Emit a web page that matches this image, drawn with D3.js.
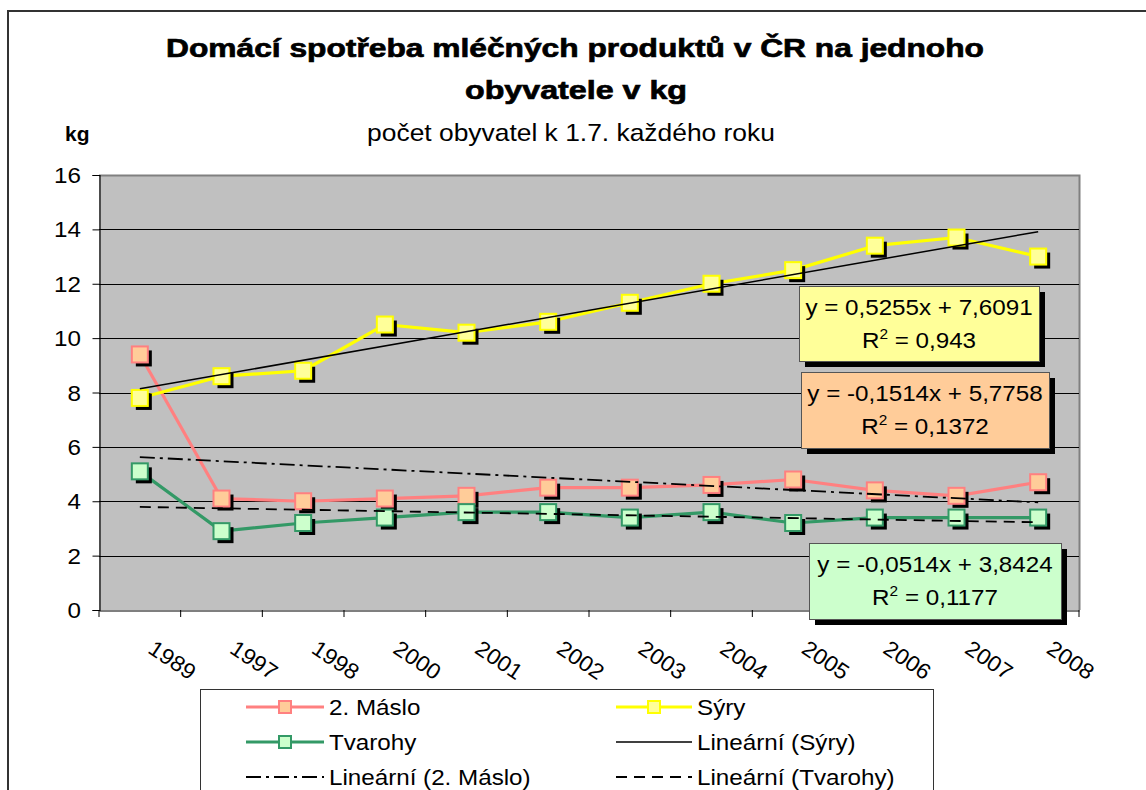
<!DOCTYPE html>
<html>
<head>
<meta charset="utf-8">
<script src="https://cdn.jsdelivr.net/npm/d3@7"></script>
<style>
  html, body { margin: 0; padding: 0; background: #fff; }
  svg { display: block; font-family: "Liberation Sans", Arial, sans-serif; }
</style>
</head>
<body>
<div id="chart"></div>
<script>
// hodnoty (kg na obyvatele)
const years = ['1989', '1997', '1998', '2000', '2001', '2002', '2003', '2004', '2005', '2006', '2007', '2008'];
const maslo = [9.4, 4.1, 4.0, 4.1, 4.2, 4.5, 4.5, 4.6, 4.8, 4.4, 4.2, 4.7];
const syry = [7.8, 8.6, 8.8, 10.5, 10.2, 10.6, 11.3, 12.0, 12.5, 13.4, 13.7, 13.0];
const tvarohy = [5.1, 2.9, 3.2, 3.4, 3.6, 3.6, 3.4, 3.6, 3.2, 3.4, 3.4, 3.4];
const yTicks = [0, 2, 4, 6, 8, 10, 12, 14, 16];

// spojnice trendu (lineární): y = a*x + b
const trendNames = ['Sýry', '2. Máslo', 'Tvarohy'];
const trendSlope = [0.5255, -0.1514, -0.0514];
const trendIntercept = [7.6091, 5.7758, 3.8424];
const trendR2 = ['0,943', '0,1372', '0,1177'];

const W = 1146, H = 790;
const SX = 1.1; // text is a bit wider than Arial in the picture

const svg = d3.select('#chart').append('svg').attr('width', W).attr('height', H);

function txt(parent, x, y, s, o) {
  o = o || {};
  const t = parent.append('text')
    .attr('transform', `translate(${x},${y}) rotate(${o.rot || 0}) scale(${o.sx || SX},1)`)
    .attr('font-size', (o.size || 22) + 'px')
    .attr('font-weight', o.bold ? 'bold' : 'normal')
    .attr('text-anchor', o.anchor || 'start')
    .attr('fill', '#000');
  if (s !== null) t.text(s);
  return t;
}

// rámeček grafu
svg.append('path').attr('d', `M8,${H} V11 H${W}`).attr('fill', 'none').attr('stroke', '#333').attr('stroke-width', 2);

// nadpisy
txt(svg, 575, 57, 'Domácí spotřeba mléčných produktů v ČR na jednoho', { size: 26, bold: true, anchor: 'middle', sx: 1 })
  .attr('textLength', 818).attr('lengthAdjust', 'spacingAndGlyphs').attr('stroke', '#000').attr('stroke-width', 0.7);
txt(svg, 576, 99, 'obyvatele v kg', { size: 26, bold: true, anchor: 'middle', sx: 1 })
  .attr('textLength', 222).attr('lengthAdjust', 'spacingAndGlyphs').attr('stroke', '#000').attr('stroke-width', 0.7);
txt(svg, 571, 141, 'počet obyvatel k 1.7. každého roku', { size: 24, anchor: 'middle' });
txt(svg, 65, 141, 'kg', { size: 21, bold: true, sx: 1 });

const x = d3.scaleBand().domain(years).range([99, 1079]).padding(0);
const y = d3.scaleLinear().domain([0, 16]).range([610, 175]);
const cx = d => x(d) + x.bandwidth() / 2;

// plocha grafu
svg.append('rect').attr('x', 99).attr('y', 175).attr('width', 980).attr('height', 435)
  .attr('fill', '#c0c0c0');
svg.append('path').attr('d', 'M99,175.5 H1079.5 V610').attr('fill', 'none').attr('stroke', '#808080').attr('stroke-width', 2);

svg.append('g').selectAll('line').data(yTicks.filter(v => v > 0 && v < 16)).join('line')
  .attr('x1', 99).attr('x2', 1079)
  .attr('y1', d => Math.round(y(d)) + 0.5).attr('y2', d => Math.round(y(d)) + 0.5)
  .attr('stroke', '#000').attr('stroke-width', 1);

// osa y
const yAxis = svg.append('g').attr('transform', 'translate(99.5,0)')
  .call(d3.axisLeft(y).tickValues(yTicks).tickSize(7).tickFormat(''));
yAxis.select('.domain').attr('stroke', '#000').attr('stroke-width', 1.2);
yAxis.selectAll('.tick line').attr('stroke', '#000');
yTicks.forEach(v => txt(svg, 81, y(v) + 8, String(v), { size: 22, anchor: 'end' }));

// osa x
const xAxis = svg.append('g').attr('transform', 'translate(0,610.5)')
  .call(d3.axisBottom(x).tickSize(0).tickFormat(''));
xAxis.select('.domain').attr('stroke', '#000').attr('stroke-width', 1.2);
svg.append('g').selectAll('line').data(years.concat(['end'])).join('line')
  .attr('x1', d => d === 'end' ? 1079 : x(d)).attr('x2', d => d === 'end' ? 1079 : x(d))
  .attr('y1', 610).attr('y2', 617).attr('stroke', '#000');
years.forEach(d => txt(svg, cx(d) + 7, 652, d, { size: 22, rot: 34, sx: 1.05 }));

// řady
const series = [
  { name: '2. Máslo', values: maslo, line: '#ff8080', fill: '#ffcc99' },
  { name: 'Sýry', values: syry, line: '#ffff00', fill: '#ffff99' },
  { name: 'Tvarohy', values: tvarohy, line: '#339966', fill: '#ccffcc' }
];
const line = d3.line().x((v, i) => cx(years[i])).y(v => y(v));
const M = 16;

series.forEach(s => {
  svg.append('path').attr('d', line(s.values)).attr('fill', 'none')
    .attr('stroke', s.line).attr('stroke-width', 3.2).attr('stroke-linejoin', 'round');
  const g = svg.append('g');
  s.values.forEach((v, i) => {
    const px = cx(years[i]), py = y(v);
    g.append('rect').attr('x', px - M / 2 + 4).attr('y', py - M / 2 + 4).attr('width', M).attr('height', M).attr('fill', '#000');
    g.append('rect').attr('x', px - M / 2).attr('y', py - M / 2).attr('width', M).attr('height', M)
      .attr('fill', s.fill).attr('stroke', s.line).attr('stroke-width', 2);
  });
});

// trendy
const trendStyle = [
  { dash: null, width: 1.5 },
  { dash: '15,5,3,5', width: 1.8 },
  { dash: '11,7', width: 1.8 }
];
trendSlope.forEach((a, k) => {
  const b = trendIntercept[k];
  svg.append('line')
    .attr('x1', cx(years[0])).attr('y1', y(a * 1 + b))
    .attr('x2', cx(years[years.length - 1])).attr('y2', y(a * years.length + b))
    .attr('stroke', '#000').attr('stroke-width', trendStyle[k].width)
    .attr('stroke-dasharray', trendStyle[k].dash);
});

// rovnice trendu
const fmt = v => String(v).replace('.', ',');
const boxes = [
  { x: 799, y: 286, w: 240, h: 75, fill: '#ffff99' },
  { x: 801, y: 372, w: 248, h: 76, fill: '#ffcc99' },
  { x: 809, y: 543, w: 252, h: 76, fill: '#ccffcc' }
];
boxes.forEach((b, k) => {
  const g = svg.append('g');
  g.append('rect').attr('x', b.x + 6).attr('y', b.y + 6).attr('width', b.w).attr('height', b.h).attr('fill', '#000');
  g.append('rect').attr('x', b.x + 0.5).attr('y', b.y + 0.5).attr('width', b.w).attr('height', b.h)
    .attr('fill', b.fill).attr('stroke', '#555').attr('stroke-width', 1);
  const a = trendSlope[k], c = trendIntercept[k];
  const eq = 'y = ' + fmt(a) + 'x + ' + fmt(c);
  txt(g, b.x + b.w / 2, b.y + 29, eq, { size: 22, anchor: 'middle' });
  const t = txt(g, b.x + b.w / 2, b.y + 62, null, { size: 22, anchor: 'middle' });
  t.append('tspan').text('R');
  t.append('tspan').attr('dy', -9).attr('font-size', '14px').text('2');
  t.append('tspan').attr('dy', 9).text(' = ' + trendR2[k]);
});

// legenda
const leg = svg.append('g');
leg.append('rect').attr('x', 200.5).attr('y', 689.5).attr('width', 733).attr('height', 130)
  .attr('fill', '#fff').attr('stroke', '#333');
const legItems = [
  { label: '2. Máslo', col: 0, row: 0, s: series[0] },
  { label: 'Sýry', col: 1, row: 0, s: series[1] },
  { label: 'Tvarohy', col: 0, row: 1, s: series[2] },
  { label: 'Lineární (' + trendNames[0] + ')', col: 1, row: 1, t: 0 },
  { label: 'Lineární (' + trendNames[1] + ')', col: 0, row: 2, t: 1 },
  { label: 'Lineární (' + trendNames[2] + ')', col: 1, row: 2, t: 2 }
];
legItems.forEach(it => {
  const x0 = it.col ? 616 : 246, x1 = it.col ? 692 : 324;
  const yy = 707 + it.row * 35;
  if (it.s) {
    leg.append('line').attr('x1', x0).attr('x2', x1).attr('y1', yy).attr('y2', yy)
      .attr('stroke', it.s.line).attr('stroke-width', 3.2);
    leg.append('rect').attr('x', (x0 + x1) / 2 - 6).attr('y', yy - 6).attr('width', 12).attr('height', 12)
      .attr('fill', it.s.fill).attr('stroke', it.s.line).attr('stroke-width', 2);
  } else {
    leg.append('line').attr('x1', x0).attr('x2', x1).attr('y1', yy).attr('y2', yy)
      .attr('stroke', '#000').attr('stroke-width', trendStyle[it.t].width)
      .attr('stroke-dasharray', trendStyle[it.t].dash);
  }
  txt(leg, x1 + 5, yy + 8, it.label, { size: 22 });
});
</script>
</body>
</html>
